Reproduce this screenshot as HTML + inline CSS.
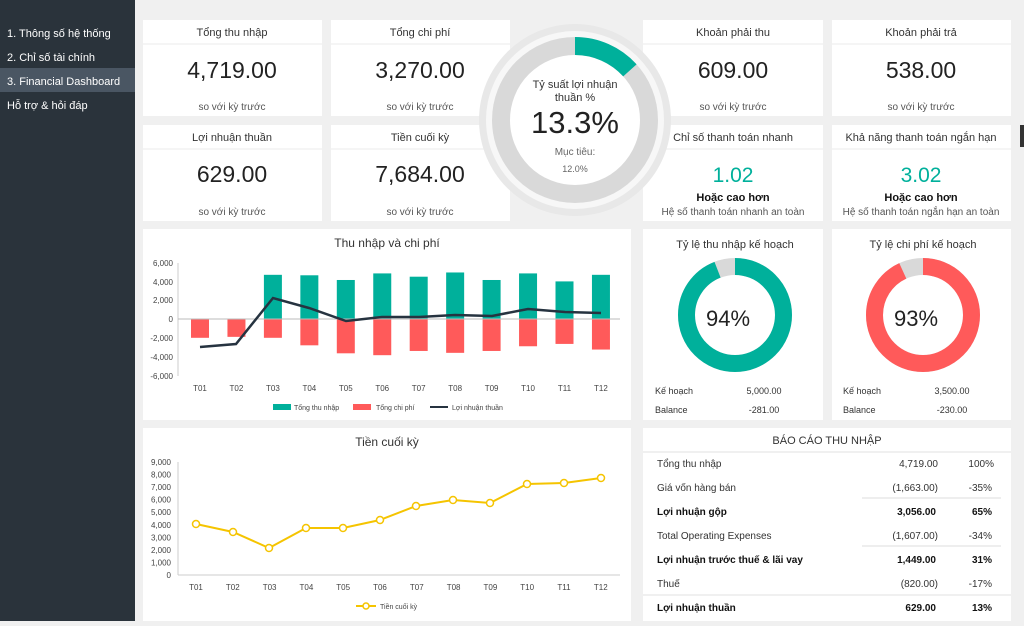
<!DOCTYPE html><html><head><meta charset="utf-8"><style>
body{margin:0;width:1024px;height:621px;overflow:hidden;background:#f0f0f0;font-family:"Liberation Sans","DejaVu Sans",sans-serif}
svg text{font-family:"Liberation Sans","DejaVu Sans",sans-serif}
</style></head><body>
<svg width="1024" height="621" viewBox="0 0 1024 621" xmlns="http://www.w3.org/2000/svg">
<rect width="1024" height="621" fill="#f0f0f0"/>
<rect width="135" height="621" fill="#2a333b"/>
<rect y="68" width="135" height="24" fill="#4a5663"/>
<g fill="#fff" font-size="11">
<text x="7" y="37">1. Thông số hệ thống</text>
<text x="7" y="61">2. Chỉ số tài chính</text>
<text x="7" y="85">3. Financial Dashboard</text>
<text x="7" y="109">Hỗ trợ &amp; hỏi đáp</text>
</g>
<rect x="1020" y="125" width="4" height="22" fill="#333"/>
<!-- KPI cards -->
<g fill="#fff">
<rect x="143" y="20" width="179" height="96"/><rect x="331" y="20" width="179" height="96"/>
<rect x="643" y="20" width="180" height="96"/><rect x="832" y="20" width="179" height="96"/>
<rect x="143" y="125" width="179" height="96"/><rect x="331" y="125" width="179" height="96"/>
<rect x="643" y="125" width="180" height="96"/><rect x="832" y="125" width="179" height="96"/>
</g>
<g stroke="#f2f2f2" stroke-width="1.5">
<line x1="143" y1="44" x2="322" y2="44"/><line x1="331" y1="44" x2="510" y2="44"/><line x1="643" y1="44" x2="823" y2="44"/><line x1="832" y1="44" x2="1011" y2="44"/>
<line x1="143" y1="149" x2="322" y2="149"/><line x1="331" y1="149" x2="510" y2="149"/><line x1="643" y1="149" x2="823" y2="149"/><line x1="832" y1="149" x2="1011" y2="149"/>
</g>
<g text-anchor="middle" fill="#333">
<text x="232" y="36" font-size="11">Tổng thu nhập</text>
<text x="232" y="78" font-size="23" fill="#222">4,719.00</text>
<text x="232" y="110" font-size="10" fill="#555">so với kỳ trước</text>
<text x="420" y="36" font-size="11">Tổng chi phí</text>
<text x="420" y="78" font-size="23" fill="#222">3,270.00</text>
<text x="420" y="110" font-size="10" fill="#555">so với kỳ trước</text>
<text x="733" y="36" font-size="11">Khoản phải thu</text>
<text x="733" y="78" font-size="23" fill="#222">609.00</text>
<text x="733" y="110" font-size="10" fill="#555">so với kỳ trước</text>
<text x="921" y="36" font-size="11">Khoản phải trả</text>
<text x="921" y="78" font-size="23" fill="#222">538.00</text>
<text x="921" y="110" font-size="10" fill="#555">so với kỳ trước</text>
<text x="232" y="141" font-size="11">Lợi nhuận thuần</text>
<text x="232" y="182" font-size="23" fill="#222">629.00</text>
<text x="232" y="215" font-size="10" fill="#555">so với kỳ trước</text>
<text x="420" y="141" font-size="11">Tiền cuối kỳ</text>
<text x="420" y="182" font-size="23" fill="#222">7,684.00</text>
<text x="420" y="215" font-size="10" fill="#555">so với kỳ trước</text>
<text x="733" y="141" font-size="11">Chỉ số thanh toán nhanh</text>
<text x="733" y="182" font-size="21" fill="#00b09b">1.02</text>
<text x="733" y="201" font-size="11" font-weight="bold" fill="#111">Hoặc cao hơn</text>
<text x="733" y="215" font-size="10" fill="#555">Hệ số thanh toán nhanh an toàn</text>
<text x="921" y="141" font-size="11">Khả năng thanh toán ngắn hạn</text>
<text x="921" y="182" font-size="21" fill="#00b09b">3.02</text>
<text x="921" y="201" font-size="11" font-weight="bold" fill="#111">Hoặc cao hơn</text>
<text x="921" y="215" font-size="10" fill="#555">Hệ số thanh toán ngắn hạn an toàn</text>
</g>
<!-- center donut -->
<circle cx="575" cy="120" r="96" fill="#e8e8e8"/>
<circle cx="575" cy="120" r="89" fill="#f7f7f7"/>
<circle cx="575" cy="120" r="83" fill="#fff"/>
<circle cx="575" cy="120" r="74" fill="none" stroke="#d9d9d9" stroke-width="18"/>
<circle cx="575" cy="120" r="74" fill="none" stroke="#00b09b" stroke-width="18" stroke-dasharray="61.8 1000" transform="rotate(-90 575 120)"/>
<g text-anchor="middle" fill="#333">
<text x="575" y="88" font-size="11">Tỷ suất lợi nhuận</text>
<text x="575" y="101" font-size="11">thuần %</text>
<text x="575" y="133" font-size="31" fill="#222">13.3%</text>
<text x="575" y="155" font-size="10" fill="#666">Mục tiêu:</text>
<text x="575" y="172" font-size="9" fill="#666">12.0%</text>
</g>
<!-- chart 1 -->
<rect x="143" y="229" width="488" height="191" fill="#fff"/>
<text x="387" y="247" font-size="12" text-anchor="middle" fill="#333">Thu nhập và chi phí</text>
<g font-size="8" fill="#444" text-anchor="end">
<text x="173" y="266">6,000</text><text x="173" y="285">4,000</text><text x="173" y="303">2,000</text><text x="173" y="322">0</text>
<text x="173" y="341">-2,000</text><text x="173" y="360">-4,000</text><text x="173" y="379">-6,000</text>
</g>
<line x1="178" y1="263" x2="178" y2="376" stroke="#ccc"/>
<g id="bars"></g>
<line x1="178" y1="319" x2="620" y2="319" stroke="#bbb"/>
<polyline fill="none" stroke="#263340" stroke-width="2.5" points="200,347 236,344 273,298 309,308 346,321 382,317 419,317 455,315 492,316 528,309 565,312 601,313"/>
<g font-size="8" fill="#444" text-anchor="middle" id="xl1"></g>
<rect x="273" y="404" width="18" height="6" fill="#00b09b"/><text x="294" y="410" font-size="7" fill="#444">Tổng thu nhập</text>
<rect x="353" y="404" width="18" height="6" fill="#ff5a5a"/><text x="376" y="410" font-size="7" fill="#444">Tổng chi phí</text>
<line x1="430" y1="407" x2="448" y2="407" stroke="#263340" stroke-width="2"/><text x="452" y="410" font-size="7" fill="#444">Lợi nhuận thuần</text>
<!-- chart 2 -->
<rect x="143" y="428" width="488" height="193" fill="#fff"/>
<text x="387" y="446" font-size="12" text-anchor="middle" fill="#333">Tiền cuối kỳ</text>
<g font-size="8" fill="#444" text-anchor="end" id="yl2"></g>
<line x1="178" y1="462" x2="178" y2="575" stroke="#ccc"/>
<line x1="178" y1="575" x2="620" y2="575" stroke="#ccc"/>
<polyline fill="none" stroke="#f5c400" stroke-width="2" points="196,524 233,532 269,548 306,528 343,528 380,520 416,506 453,500 490,503 527,484 564,483 601,478"/>
<g fill="#fff" stroke="#f5c400" stroke-width="1.5">
<circle cx="196" cy="524" r="3.5"/><circle cx="233" cy="532" r="3.5"/><circle cx="269" cy="548" r="3.5"/><circle cx="306" cy="528" r="3.5"/><circle cx="343" cy="528" r="3.5"/><circle cx="380" cy="520" r="3.5"/><circle cx="416" cy="506" r="3.5"/><circle cx="453" cy="500" r="3.5"/><circle cx="490" cy="503" r="3.5"/><circle cx="527" cy="484" r="3.5"/><circle cx="564" cy="483" r="3.5"/><circle cx="601" cy="478" r="3.5"/>
</g>
<g font-size="8" fill="#444" text-anchor="middle" id="xl2"></g>
<line x1="356" y1="606" x2="376" y2="606" stroke="#f5c400" stroke-width="2"/><circle cx="366" cy="606" r="3" fill="#fff" stroke="#f5c400" stroke-width="1.5"/>
<text x="380" y="609" font-size="7" fill="#444">Tiền cuối kỳ</text>
<!-- donut cards -->
<rect x="643" y="229" width="180" height="191" fill="#fff"/><rect x="832" y="229" width="179" height="191" fill="#fff"/>
<text x="735" y="248" font-size="11" text-anchor="middle" fill="#333">Tỷ lệ thu nhập kế hoạch</text>
<text x="923" y="248" font-size="11" text-anchor="middle" fill="#333">Tỷ lệ chi phí kế hoạch</text>
<circle cx="735" cy="315" r="48.5" fill="none" stroke="#d9d9d9" stroke-width="17"/>
<circle cx="735" cy="315" r="48.5" fill="none" stroke="#00b09b" stroke-width="17" stroke-dasharray="286.4 1000" transform="rotate(-90 735 315)"/>
<circle cx="923" cy="315" r="48.5" fill="none" stroke="#d9d9d9" stroke-width="17"/>
<circle cx="923" cy="315" r="48.5" fill="none" stroke="#ff5a5a" stroke-width="17" stroke-dasharray="283.4 1000" transform="rotate(-90 923 315)"/>
<text x="728" y="326" font-size="22" text-anchor="middle" fill="#222">94%</text>
<text x="916" y="326" font-size="22" text-anchor="middle" fill="#222">93%</text>
<g font-size="9" fill="#333">
<text x="655" y="394">Kế hoạch</text><text x="655" y="413">Balance</text>
<text x="764" y="394" text-anchor="middle">5,000.00</text><text x="764" y="413" text-anchor="middle">-281.00</text>
<text x="843" y="394">Kế hoạch</text><text x="843" y="413">Balance</text>
<text x="952" y="394" text-anchor="middle">3,500.00</text><text x="952" y="413" text-anchor="middle">-230.00</text>
</g>
<!-- table -->
<rect x="643" y="428" width="368" height="193" fill="#fff"/>
<line x1="643" y1="452" x2="1011" y2="452" stroke="#f0f0f0" stroke-width="2"/>
<text x="827" y="444" font-size="11" text-anchor="middle" fill="#333">BÁO CÁO THU NHẬP</text>
<g stroke="#ddd"><line x1="862" y1="498" x2="1001" y2="498"/><line x1="862" y1="546" x2="1001" y2="546"/></g>
<line x1="643" y1="595" x2="1011" y2="595" stroke="#f0f0f0" stroke-width="2"/>
<g font-size="10" fill="#333">
<text x="657" y="467">Tổng thu nhập</text><text x="938" y="467" text-anchor="end">4,719.00</text><text x="994" y="467" text-anchor="end">100%</text>
<text x="657" y="491">Giá vốn hàng bán</text><text x="938" y="491" text-anchor="end">(1,663.00)</text><text x="992" y="491" text-anchor="end">-35%</text>
<text x="657" y="515" font-weight="bold" fill="#111">Lợi nhuận gộp</text><text x="936" y="515" text-anchor="end" font-weight="bold" fill="#111">3,056.00</text><text x="992" y="515" text-anchor="end" font-weight="bold" fill="#111">65%</text>
<text x="657" y="539">Total Operating Expenses</text><text x="938" y="539" text-anchor="end">(1,607.00)</text><text x="992" y="539" text-anchor="end">-34%</text>
<text x="657" y="563" font-weight="bold" fill="#111">Lợi nhuận trước thuế &amp; lãi vay</text><text x="936" y="563" text-anchor="end" font-weight="bold" fill="#111">1,449.00</text><text x="992" y="563" text-anchor="end" font-weight="bold" fill="#111">31%</text>
<text x="657" y="587">Thuế</text><text x="938" y="587" text-anchor="end">(820.00)</text><text x="992" y="587" text-anchor="end">-17%</text>
<text x="657" y="611" font-weight="bold" fill="#111">Lợi nhuận thuần</text><text x="936" y="611" text-anchor="end" font-weight="bold" fill="#111">629.00</text><text x="992" y="611" text-anchor="end" font-weight="bold" fill="#111">13%</text>
</g>
</svg>
<script>
var NS="http://www.w3.org/2000/svg";
function el(p,t,a,txt){var e=document.createElementNS(NS,t);for(var k in a)e.setAttribute(k,a[k]);if(txt)e.textContent=txt;document.getElementById(p).appendChild(e);}
var inc=[0,0,4700,4650,4150,4850,4500,4950,4150,4850,4000,4700];
var exp=[2000,1900,2000,2800,3650,3850,3400,3600,3400,2900,2650,3250];
for(var i=0;i<12;i++){var x=200+36.45*i;
 if(inc[i])el("bars","rect",{x:x-9,y:319-inc[i]*0.0094,width:18,height:inc[i]*0.0094,fill:"#00b09b"});
 el("bars","rect",{x:x-9,y:319,width:18,height:exp[i]*0.0094,fill:"#ff5a5a"});
 var l="T"+(i<9?"0":"")+(i+1);
 el("xl1","text",{x:x,y:391},l);
 el("xl2","text",{x:196+36.8*i,y:590},l);}
for(var v=0;v<=9;v++){el("yl2","text",{x:171,y:578-v*12.56},v==0?"0":v+",000");}
</script>
</body></html>
